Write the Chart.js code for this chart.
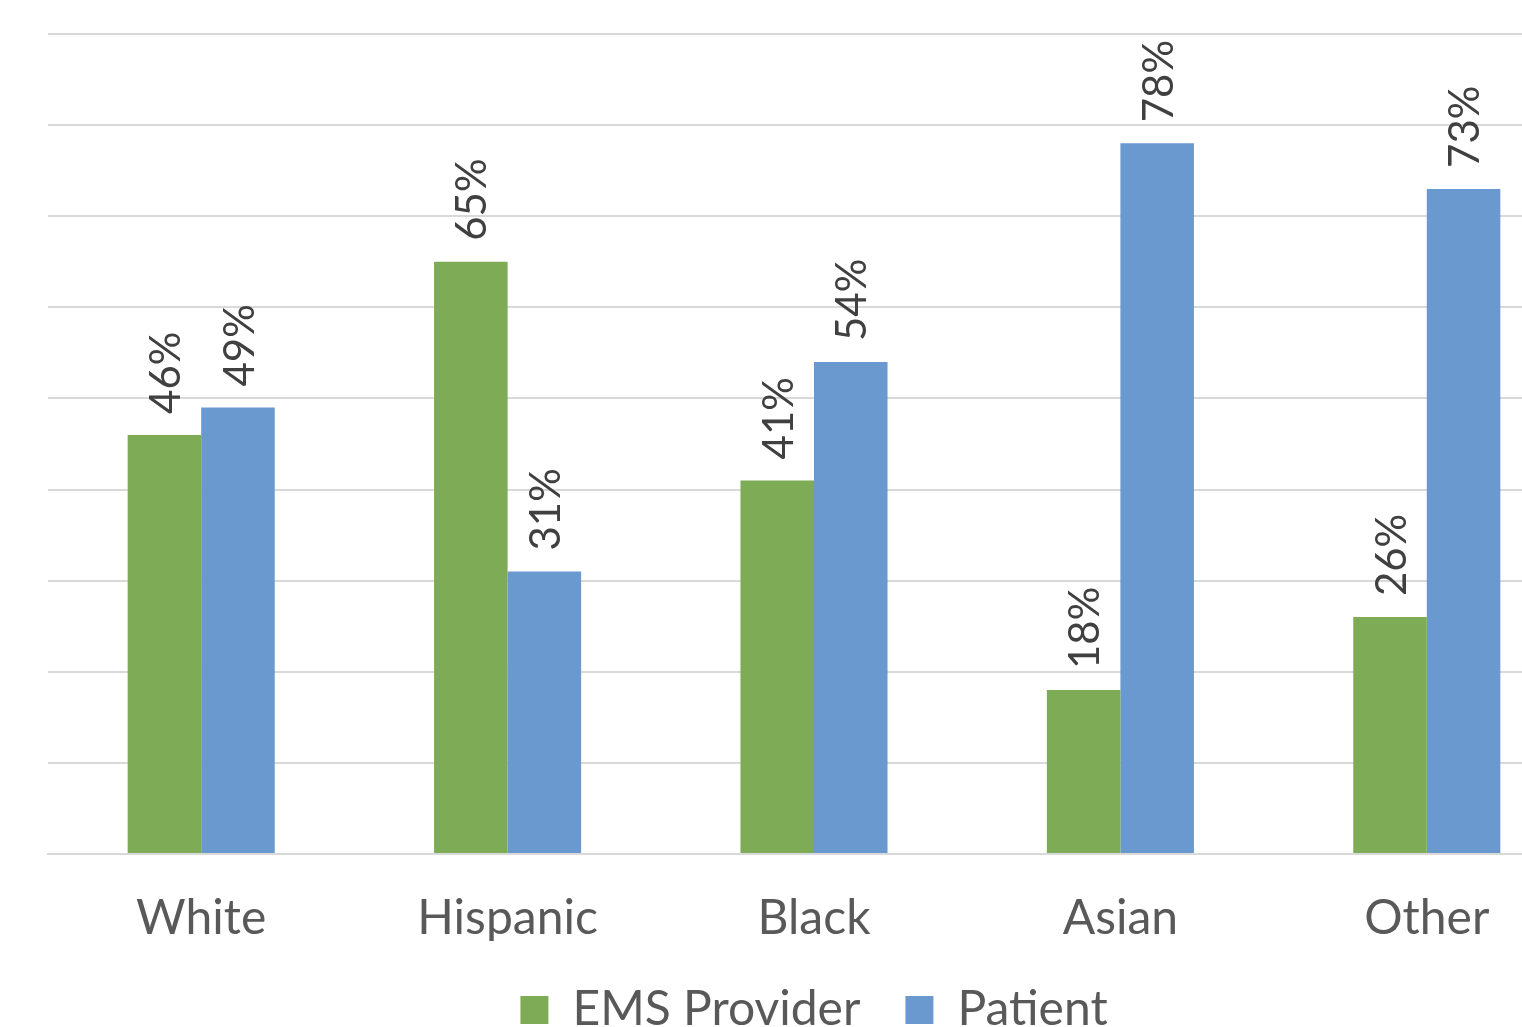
<!DOCTYPE html>
<html>
<head>
<meta charset="utf-8">
<title>EMS Provider vs Patient</title>
<script src="https://cdn.jsdelivr.net/npm/chart.js@4.4.1/dist/chart.umd.min.js"></script>
<style>
  html, body { margin: 0; padding: 0; background: #ffffff; overflow: hidden; }
  #wrap { position: relative; width: 1580px; height: 1044px; }
</style>
</head>
<body>
<div id="wrap"><canvas id="chart"></canvas></div>
<script>
// Share of each group, in percent
const categories = ['White', 'Hispanic', 'Black', 'Asian', 'Other'];
const emsProvider = [46, 65, 41, 18, 26];
const patient = [49, 31, 54, 78, 73];
const seriesNames = ['EMS Provider', 'Patient'];

const FONT = 'Lato, "Open Sans", "DejaVu Sans", sans-serif';

// Rotated value labels above each bar
const barValueLabels = {
  id: 'barValueLabels',
  afterDatasetsDraw(chart) {
    const ctx = chart.ctx;
    ctx.save();
    ctx.font = '42px ' + FONT;
    ctx.fillStyle = '#404040';
    ctx.textAlign = 'left';
    ctx.textBaseline = 'middle';
    chart.data.datasets.forEach((ds, di) => {
      const meta = chart.getDatasetMeta(di);
      meta.data.forEach((bar, i) => {
        ctx.save();
        ctx.translate(bar.x, bar.y - 21);
        ctx.rotate(-Math.PI / 2);
        ctx.fillText(ds.data[i] + '%', 0, 2);
        ctx.restore();
      });
    });
    ctx.restore();
  }
};

new Chart(document.getElementById('chart'), {
  type: 'bar',
  data: {
    labels: categories,
    datasets: [
      { label: seriesNames[0], data: emsProvider, backgroundColor: '#7eab55' },
      { label: seriesNames[1], data: patient, backgroundColor: '#6a99d0' }
    ]
  },
  options: {
    responsive: true,
    maintainAspectRatio: false,
    animation: false,
    layout: { padding: { left: 48, right: 0, top: 34, bottom: 0 } },
    datasets: { bar: { categoryPercentage: 0.48, barPercentage: 1.0 } },
    scales: {
      x: {
        grid: { display: false },
        border: { display: true, color: '#d9d9d9', width: 2 },
        ticks: {
          color: '#595959',
          font: { family: FONT, size: 48 },
          padding: 28,
          maxRotation: 0
        },
        afterFit(scale) { scale.height = 87; }
      },
      y: {
        min: 0,
        max: 90,
        ticks: { display: false, stepSize: 10 },
        grid: { color: '#d9d9d9', lineWidth: 2, drawTicks: false },
        border: { display: false }
      }
    },
    plugins: {
      legend: {
        position: 'bottom',
        labels: {
          color: '#595959',
          font: { family: FONT, size: 48 },
          boxWidth: 28,
          boxHeight: 28,
          padding: 45
        }
      },
      tooltip: { enabled: false }
    }
  },
  plugins: [barValueLabels]
});
</script>
</body>
</html>
